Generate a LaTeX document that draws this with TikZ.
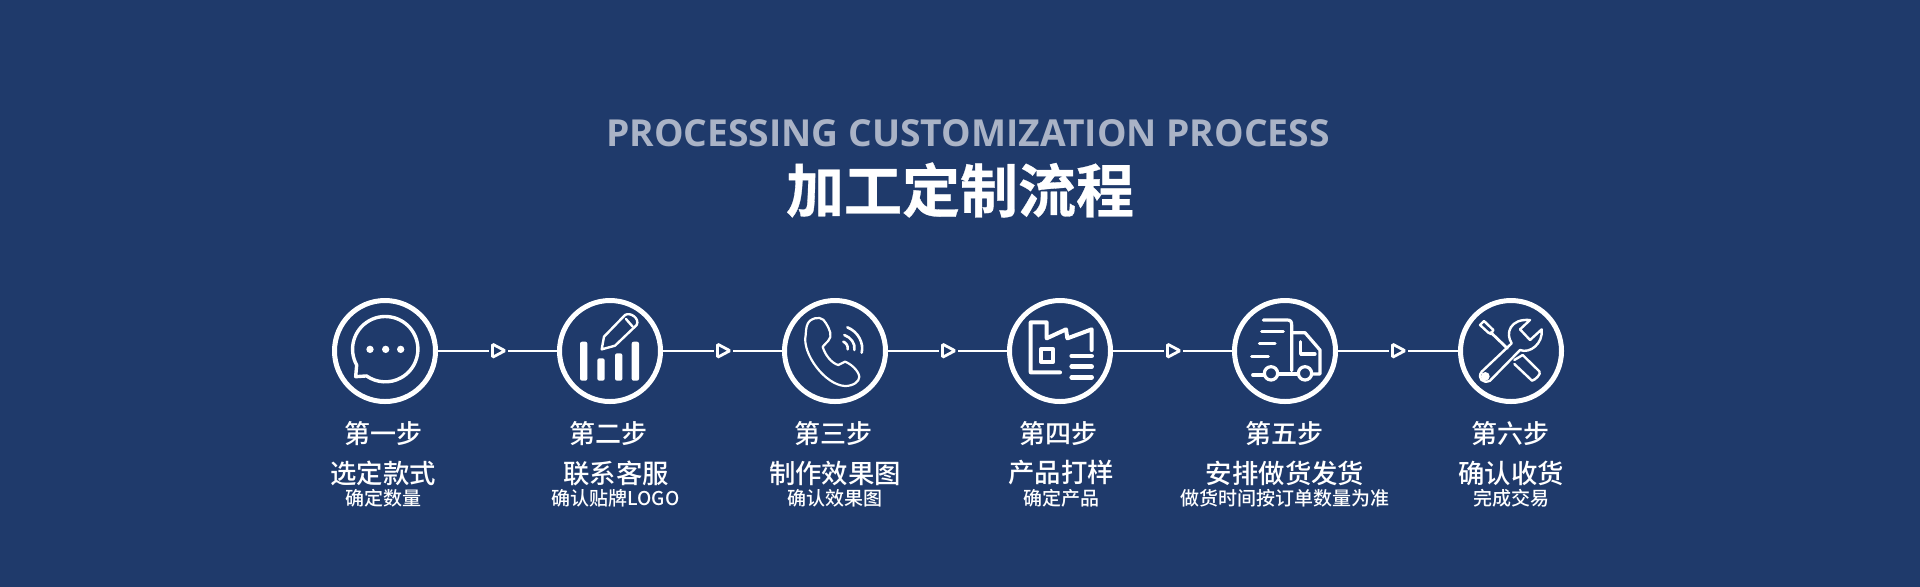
\documentclass[tikz,border=0pt]{standalone}
\usepackage{fontspec}
\usetikzlibrary{shapes.geometric}
\setmainfont{Noto Sans CJK SC Medium}[BoldFont={Noto Sans CJK SC Bold}]
\newfontfamily\latinbold{Open Sans}
\newfontfamily\titlecn{Noto Sans CJK SC Bold}[FakeBold=0.5]
\definecolor{bgblue}{RGB}{31,58,107}
\definecolor{subgrey}{RGB}{170,179,198}
\newcommand{\fs}[1]{\fontsize{#1}{#1}\selectfont}
\tikzset{
 ring/.style={circle,draw=white,line width=2.5pt,minimum size=50.5pt,inner sep=0pt,fill=none,outer sep=0pt},
 tri/.style={isosceles triangle,isosceles triangle stretches,draw=white,line width=1.4pt,minimum width=6.6pt,minimum height=6.2pt,inner sep=0pt,rounded corners=0.6pt,outer sep=0pt},
 link/.style={draw=white,line width=1pt},
 ico/.style={draw=white,line width=1.2pt,line cap=round,line join=round},
 steptxt/.style={text=white,font=\fs{13},inner sep=0pt,anchor=center},
 headtxt/.style={text=white,font=\fs{13.2},inner sep=0pt,anchor=center},
 subtxt/.style={text=white,font=\fs{9.5},inner sep=0pt,anchor=center},
}
\begin{document}
\begin{tikzpicture}[x=0.5pt,y=-0.5pt]
\useasboundingbox (0,0) rectangle (1920,586);
\fill[bgblue] (-5,-5) rectangle (1925,591);
\node[text=subgrey,inner sep=0pt] (en) at (968,133) {\latinbold\bfseries\fs{18.6}PROCESSING CUSTOMIZATION PROCESS};
\node[text=white,inner sep=0pt] (cn) at (960,190) {\titlecn\fs{29}加工定制流程};
\foreach \n/\x in {1/385,2/610,3/835,4/1060,5/1285,6/1511}{
 \node[ring] (s\n) at (\x,351) {};
}
\foreach \n/\x in {1/496.5,2/721.5,3/946.5,4/1171.5,5/1396.5}{
 \node[tri] (t\n) at (\x,350.7) {};
}
\foreach \a/\b in {1/2,2/3,3/4,4/5,5/6}{
 \draw[link,shorten <=0.8pt,shorten >=1.6pt] (s\a.east |- t\a.west) -- (t\a.west);
 \draw[link,shorten <=1.6pt,shorten >=0.4pt] (t\a.east) -- (s\b.west |- t\a.east);
}
% labels
\node[steptxt] (a1) at (383,434) {第一步};
\node[steptxt] (a2) at (608,434) {第二步};
\node[steptxt] (a3) at (833,434) {第三步};
\node[steptxt] (a4) at (1058,434) {第四步};
\node[steptxt] (a5) at (1284,434) {第五步};
\node[steptxt] (a6) at (1510,434) {第六步};
\node[headtxt] (b1) at (383,473) {选定款式};
\node[headtxt] (b2) at (616,473) {联系客服};
\node[headtxt] (b3) at (835,473) {制作效果图};
\node[headtxt] (b4) at (1061,473) {产品打样};
\node[headtxt] (b5) at (1285,473) {安排做货发货};
\node[headtxt] (b6) at (1511,473) {确认收货};
\node[subtxt] (c1) at (383,498) {确定数量};
\node[subtxt] (c2) at (615.5,498) {确认贴牌LOGO};
\node[subtxt] (c3) at (835,498) {确认效果图};
\node[subtxt] (c4) at (1061,498) {确定产品};
\node[subtxt] (c5) at (1285,498) {做货时间按订单数量为准};
\node[subtxt] (c6) at (1511,498) {完成交易};
% icons: coordinates are 3x crop coordinates
\begin{scope}[shift={(310,280)},x=0.16667pt,y=-0.16667pt]
 \draw[ico,line width=1.7pt] (140,255) arc[start angle=151,end angle=485,radius=98] -- (137,290) -- cycle;
 \foreach \p in {180,227,272}{\fill[white] (\p,208) circle[radius=11];}
 \foreach \p/\t in {810/185,862/235,915/220,965/185}{
  \fill[white,rounded corners=1pt] (\p,\t) rectangle ++(22,302-\t);
 }
 \draw[ico] (875,208) -- (882,170) -- (945,105) .. controls (960,95) and (990,115) .. (980,135) -- (915,197) -- cycle;
 \draw[ico] (948,117) -- (968,140);
\end{scope}
\begin{scope}[shift={(760,280)},x=0.16667pt,y=-0.16667pt]
 \draw[ico,line width=1.1pt] (150,122) .. controls (170,108) and (190,112) .. (198,130) .. controls (210,150) and (218,168) .. (205,182) -- (188,200) .. controls (195,225) and (215,250) .. (235,255) -- (255,245) .. controls (270,250) and (295,270) .. (298,290) .. controls (298,305) and (280,318) .. (255,318) .. controls (195,315) and (125,220) .. (137,165) .. controls (138,145) and (140,130) .. (150,122) -- cycle;
 \draw[ico,line width=1.3pt] (262,142) .. controls (295,155) and (312,190) .. (305,218);
 \draw[ico,line width=1.3pt] (253,165) .. controls (272,172) and (287,190) .. (283,210);
 \draw[ico,line width=1.3pt] (250,185) .. controls (258,188) and (265,198) .. (263,208);
 \draw[ico,line width=2pt] (900,277) -- (812,277) -- (812,127) -- (860,127) -- (860,175) -- (918,148) -- (922,175) -- (995,148) -- (995,210);
 \draw[ico,line width=2.1pt] (843,208) rectangle (880,245);
 \draw[ico,line width=2.3pt] (935,228) -- (995,228) (935,260) -- (995,260) (935,292) -- (995,292);
\end{scope}
\begin{scope}[shift={(1210,280)},x=0.16667pt,y=-0.16667pt]
 \draw[ico,line width=1.6pt] (160,120) -- (232,120) .. controls (242,120) and (245,125) .. (245,135) -- (245,272);
 \draw[ico,line width=1.6pt] (155,155) -- (220,155) (148,190) -- (195,190) (125,230) -- (175,230);
 \draw[ico,line width=1.6pt] (245,158) -- (285,158) -- (330,210) -- (330,282) -- (310,282);
 \draw[ico,line width=1.6pt] (272,185) -- (272,222) -- (315,222);
 \draw[ico,line width=1.6pt] (183,280) circle[radius=20] (285,280) circle[radius=20];
 \draw[ico,line width=1.6pt] (128,285) -- (162,285) (205,282) -- (263,282);
 % screwdriver
 \draw[ico] (822,123) -- (850,150) -- (843,162) -- (835,158) -- (810,135) -- cycle;
 \draw[ico,line width=1.4pt] (842,157) -- (892,205);
 \draw[ico] (913,240) -- (938,225) -- (988,274) .. controls (995,282) and (975,300) .. (966,302) -- (913,252);
 % wrench
 \draw[ico] (815,275) -- (905,190) .. controls (885,160) and (900,115) .. (960,120) -- (930,148) -- (960,180) -- (995,148) .. controls (1000,190) and (960,222) .. (930,210) -- (840,302) .. controls (820,312) and (800,295) .. (815,275) -- cycle;
 \fill[white] (826,289) circle[radius=13];
\end{scope}
\end{tikzpicture}
\end{document}
